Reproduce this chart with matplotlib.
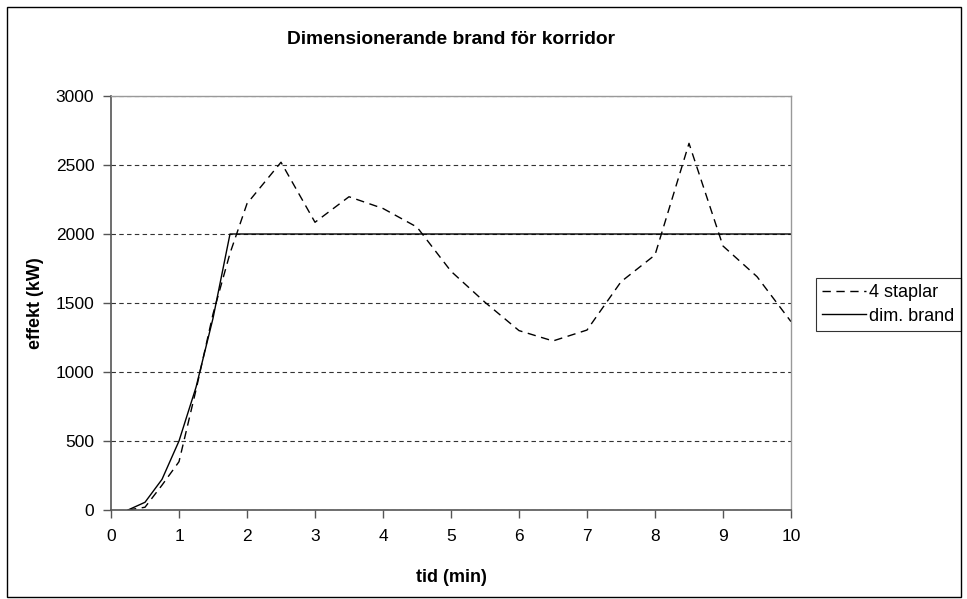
import matplotlib
matplotlib.use("Agg")
import matplotlib.pyplot as plt
from matplotlib.patches import Rectangle

plt.rcParams['font.family'] = ['Liberation Sans', 'DejaVu Sans']

# Heat release rate curves (time in minutes, power in kW)
t_staplar = [0.25, 0.5, 0.75, 1.0, 1.25, 1.5, 1.75, 2.0, 2.5, 3.0, 3.5, 4.0,
             4.5, 5.0, 5.5, 6.0, 6.5, 7.0, 7.5, 8.0, 8.5, 9.0, 9.5, 10.0]
q_staplar = [0, 20, 180, 350, 870, 1420, 1860, 2220, 2520, 2085, 2270, 2185,
             2050, 1730, 1505, 1300, 1225, 1304, 1654, 1848, 2657, 1913, 1691, 1365]

t_dim = [0.25, 0.5, 0.75, 1.0, 1.25, 1.5, 1.75, 10.0]
q_dim = [0, 56, 222, 500, 889, 1389, 2000, 2000]

series_labels = ["4 staplar", "dim. brand"]
x_ticks = list(range(0, 11))
y_ticks = list(range(0, 3001, 500))

W, H = 967, 599
fig = plt.figure(figsize=(W / 100, H / 100), dpi=100)
ax = fig.add_axes([111 / W, 1 - 510 / H, 680 / W, 414 / H])

ax.plot(t_staplar, q_staplar, color="black", lw=1.0, linestyle=(0, (6, 4)),
        label=series_labels[0])
ax.plot(t_dim, q_dim, color="black", lw=1.0, label=series_labels[1])

ax.set_xlim(0, 10)
ax.set_ylim(0, 3000)
ax.set_xticks(x_ticks)
ax.set_yticks(y_ticks)
ax.yaxis.grid(True, color="#333333", linestyle=(0, (4, 3)), lw=0.8)
ax.set_axisbelow(True)

for side in ("top", "right"):
    ax.spines[side].set_color("#999999")
    ax.spines[side].set_linewidth(1.0)
for side in ("left", "bottom"):
    ax.spines[side].set_color("#555555")
    ax.spines[side].set_linewidth(1.2)

ax.tick_params(axis="both", direction="out", length=6, width=1.0,
               color="#555555", labelsize=12.5)
ax.tick_params(axis="x", pad=8)
ax.tick_params(axis="y", pad=6)

fig.text(451 / W, 1 - 577 / H, "tid (min)", ha="center", va="center",
         fontsize=13, fontweight="bold")
fig.text(35 / W, 1 - 303 / H, "effekt (kW)", ha="center", va="center",
         rotation=90, fontsize=13, fontweight="bold")

fig.text(451 / W, 1 - 40 / H, "Dimensionerande brand för korridor",
         ha="center", va="center", fontsize=13.8, fontweight="bold")

leg = ax.legend(loc="upper left", bbox_to_anchor=(816 / W, 1 - 278 / H),
                bbox_transform=fig.transFigure, frameon=True, fancybox=False,
                fontsize=13, handlelength=2.4, handletextpad=0.2,
                borderpad=0.35, labelspacing=0.35, borderaxespad=0)
leg.get_frame().set_edgecolor("black")
leg.get_frame().set_linewidth(0.8)

# Outer chart border
fig.patches.append(Rectangle((7 / W, 2 / H), 954 / W, 1 - 9 / H,
                             transform=fig.transFigure, fill=False,
                             edgecolor="black", lw=1.0))

fig.savefig("out.png", dpi=100)
